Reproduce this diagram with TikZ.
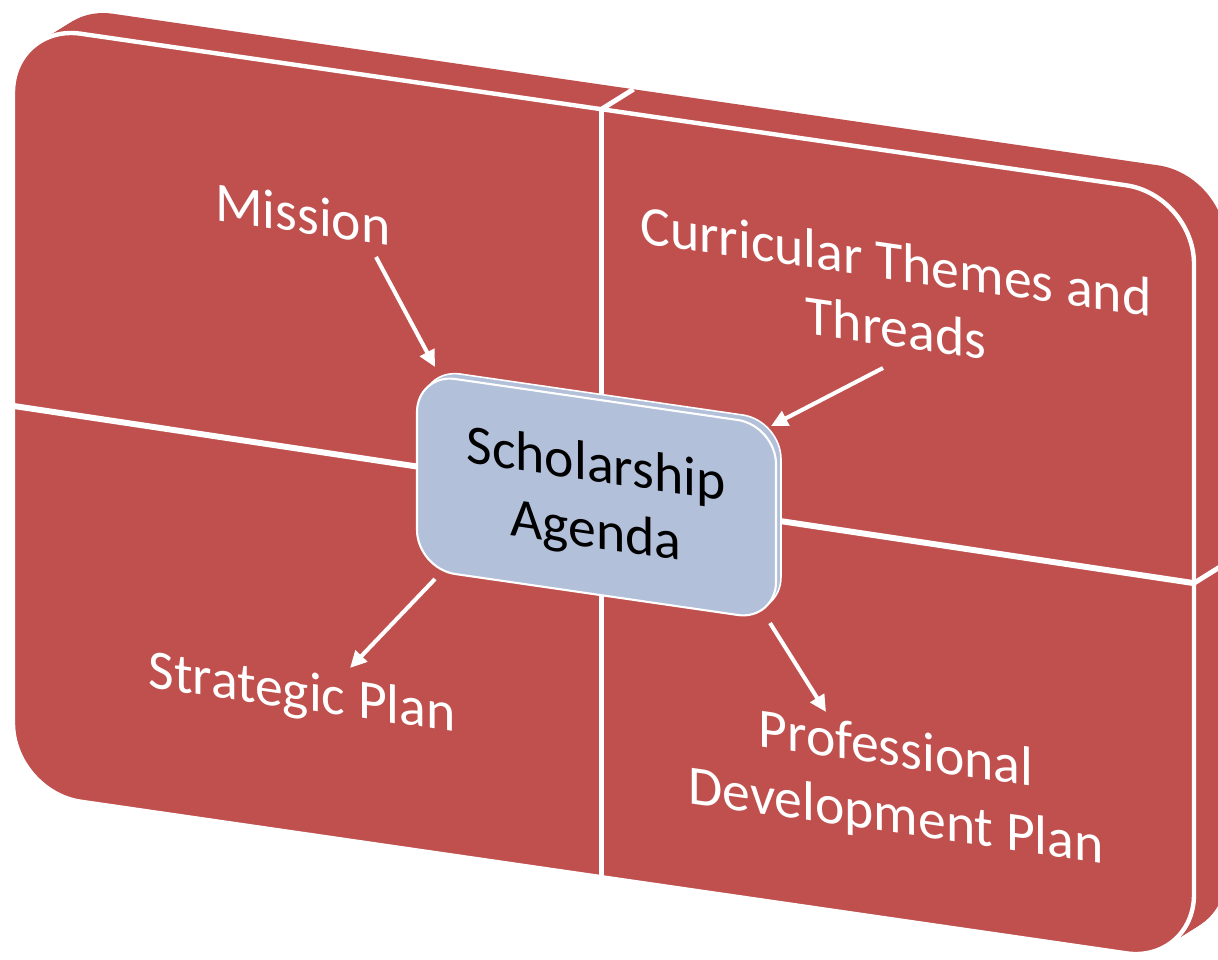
\documentclass[tikz,border=0pt]{standalone}
\usepackage{fontspec}
\setmainfont{Carlito}
\usetikzlibrary{arrows.meta}
\definecolor{matred}{HTML}{C0504D}
\definecolor{boxblue}{HTML}{B2C0D9}
\begin{document}
\begin{tikzpicture}[x=0.02cm,y=-0.02cm,
  lbl/.style={text=white,font=\fontsize{31.7pt}{38pt}\selectfont,inner sep=0pt,transform shape},
  boxlbl/.style={lbl,text=black},
  conn/.style={draw=white,line width=2.3pt,-{Triangle[length=9.5pt,width=9pt]}},
  gapline/.style={draw=white,line width=3.4pt},
  edgeline/.style={draw=white,line width=2.8pt},
  outline/.style={draw=white,line width=2.5pt}]
\useasboundingbox (0,0) rectangle (1218,960);
\begin{scope}[yslant=-0.145]
  % extrusion of the matrix
  \foreach \i in {10,9,...,1}{
    \fill[matred,rounded corners=39pt] ({13+3.2*\i},{22-2.46*\i}) rectangle ({1194+3.2*\i},{790-2.46*\i});
  }
  \draw[edgeline] (601.5,22) -- (633.5,-2.6);
  \draw[edgeline] (1194,410) -- (1226,385.4);
  % front face
  \filldraw[fill=matred,outline,rounded corners=39pt] (13,22) rectangle (1194,790);
  \draw[gapline] (601.5,22) -- (601.5,790);
  \draw[gapline] (13,404) -- (1194,410);
  % central box
  \filldraw[fill=boxblue,draw=white,line width=0.9pt,rounded corners=22pt] (422,307.3) rectangle (781,502.3);
  \filldraw[fill=boxblue,draw=white,line width=1.2pt,rounded corners=22pt] (417,313) rectangle (776,508);
  % labels
  \node[lbl,anchor=base] (mission) at (303,189) {Mission};
  \node[lbl,anchor=base] (strat) at (302,666) {Strategic Plan};
  \node[lbl,align=center] (cur) at (896,164.5) {Curricular Themes and\\Threads};
  \node[lbl,align=center] (pdp) at (896,655) {Professional\\Development Plan};
  \node[boxlbl,align=center] (sa) at (596,414) {Scholarship\\Agenda};
\end{scope}
\coordinate (m1) at (376,257); \coordinate (m2) at (435,367);
\coordinate (c1) at (883,368); \coordinate (c2) at (771,426);
\coordinate (s1) at (435,579); \coordinate (s2) at (350,668);
\coordinate (p1) at (770,623); \coordinate (p2) at (826,712);
\draw[conn] (m1) -- (m2);
\draw[conn] (c1) -- (c2);
\draw[conn] (s1) -- (s2);
\draw[conn] (p1) -- (p2);
\end{tikzpicture}
\end{document}
